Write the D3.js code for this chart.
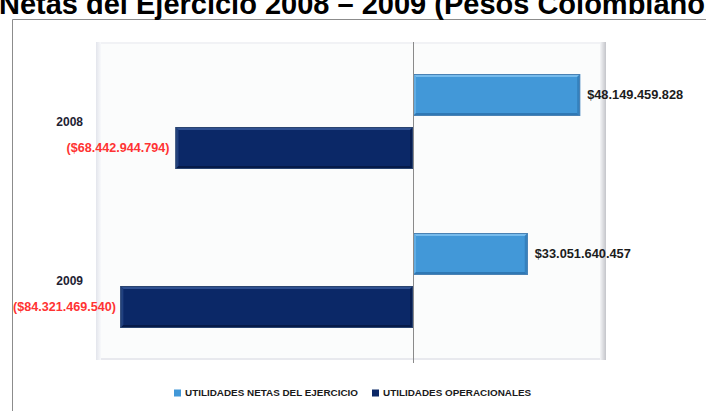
<!DOCTYPE html>
<html>
<head>
<meta charset="utf-8">
<script src="https://cdn.jsdelivr.net/npm/d3@7"></script>
<style>
  html, body { margin: 0; padding: 0; background: #fff; overflow: hidden; }
  text { font-family: 'Liberation Sans', Arial, sans-serif; }
</style>
</head>
<body>
<div id="chart"></div>
<script>
// data
let categories = ['2008', '2009']
let seriesNames = ['UTILIDADES NETAS DEL EJERCICIO', 'UTILIDADES OPERACIONALES']
let netas = [48149459828, 33051640457]
let operacionales = [-68442944794, -84321469540]
let title = 'Utilidades Netas del Ejercicio 2008 \u2013 2009 (Pesos Colombianos)'

let width = 706
let height = 411

let svg = d3
  .select('#chart')
  .append('svg')
  .attr('width', width)
  .attr('height', height)

let defs = svg.append('defs')

// plot area
let plot = { left: 96, right: 606, top: 42, bottom: 360 }

// scales
let xScale = d3
  .scaleLinear()
  .domain([-91.35e9, 55.6e9])
  .range([plot.left, plot.right])

let yScale = d3
  .scaleBand()
  .domain(categories)
  .range([plot.top, plot.bottom])

let seriesScale = d3
  .scaleBand()
  .domain(['netas', 'oper'])
  .range([0, yScale.bandwidth()])
  .paddingInner(11 / 53)
  .paddingOuter(0.6038)

let colors = {
  netas: { main: '#4298d8', light: '#76bbec', dark: '#2f78b4', edge: '#4a82b4' },
  oper: { main: '#0b2867', light: '#2f5090', dark: '#061a48', edge: '#2a4470' }
}

let locale = d3.formatLocale({ decimal: ',', thousands: '.', grouping: [3], currency: ['$', ''] })
let fmt = locale.format(',.0f')

// outer chart frame
svg
  .append('path')
  .attr('d', `M12.5,${height} V19.5 H${width}`)
  .attr('fill', 'none')
  .attr('stroke', '#8c8c8c')
  .attr('stroke-width', 1)

// title (clipped at the top and left like the original)
let titleText = svg
  .append('text')
  .attr('y', 14)
  .attr('font-size', 29)
  .attr('font-weight', 'bold')
  .attr('fill', '#000')
  .text(title)

let lead = titleText.node().getSubStringLength(0, 11)
titleText.attr('x', -lead - 1)

// plot area with its soft bevel
let gradR = defs.append('linearGradient').attr('id', 'edge-r')
gradR.append('stop').attr('offset', '0%').attr('stop-color', '#f4f5f7')
gradR.append('stop').attr('offset', '100%').attr('stop-color', '#c4c5ca')

let gradL = defs.append('linearGradient').attr('id', 'edge-l')
gradL.append('stop').attr('offset', '0%').attr('stop-color', '#e3e5ec')
gradL.append('stop').attr('offset', '100%').attr('stop-color', '#f8f9fb')

svg
  .append('rect')
  .attr('x', plot.left)
  .attr('y', plot.top)
  .attr('width', plot.right - plot.left)
  .attr('height', plot.bottom - plot.top)
  .attr('fill', '#fbfcfc')

svg
  .append('rect')
  .attr('x', plot.left)
  .attr('y', plot.top)
  .attr('width', plot.right - plot.left)
  .attr('height', 2)
  .attr('fill', '#f1f2f5')

svg
  .append('rect')
  .attr('x', plot.left)
  .attr('y', plot.bottom - 2)
  .attr('width', plot.right - plot.left)
  .attr('height', 2)
  .attr('fill', '#e8e9ee')

svg
  .append('rect')
  .attr('x', plot.left)
  .attr('y', plot.top)
  .attr('width', 5)
  .attr('height', plot.bottom - plot.top)
  .attr('fill', 'url(#edge-l)')

svg
  .append('rect')
  .attr('x', plot.right - 6)
  .attr('y', plot.top)
  .attr('width', 6)
  .attr('height', plot.bottom - plot.top)
  .attr('fill', 'url(#edge-r)')

// bars
let rows = categories.map((c, i) => ({
  category: c,
  bars: [
    { key: 'netas', value: netas[i] },
    { key: 'oper', value: operacionales[i] }
  ]
}))

function bevelBar(g, x0, y0, w, h, c) {
  let d = 3
  g.append('rect')
    .attr('x', x0)
    .attr('y', y0)
    .attr('width', w)
    .attr('height', h)
    .attr('fill', c.main)
  // top highlight
  g.append('path')
    .attr('d', `M${x0},${y0} H${x0 + w} L${x0 + w - d},${y0 + d} H${x0 + d} Z`)
    .attr('fill', c.light)
  // left side
  g.append('path')
    .attr('d', `M${x0},${y0} L${x0 + d},${y0 + d} V${y0 + h - d} L${x0},${y0 + h} Z`)
    .attr('fill', c.light)
    .attr('opacity', 0.6)
  // right side
  g.append('path')
    .attr('d', `M${x0 + w},${y0} L${x0 + w - d},${y0 + d} V${y0 + h - d} L${x0 + w},${y0 + h} Z`)
    .attr('fill', c.dark)
    .attr('opacity', 0.7)
  // bottom shade
  g.append('path')
    .attr('d', `M${x0},${y0 + h} H${x0 + w} L${x0 + w - d},${y0 + h - d} H${x0 + d} Z`)
    .attr('fill', c.dark)
  g.append('rect')
    .attr('x', x0 + 0.5)
    .attr('y', y0 + 0.5)
    .attr('width', w - 1)
    .attr('height', h - 1)
    .attr('fill', 'none')
    .attr('stroke', c.edge)
    .attr('stroke-width', 1)
}

let groups = svg
  .selectAll('.cat')
  .data(rows)
  .enter()
  .append('g')
  .attr('class', 'cat')
  .attr('transform', d => `translate(0,${yScale(d.category)})`)

groups.each(function(row) {
  let g = d3.select(this)
  row.bars.forEach(b => {
    let x0 = Math.min(xScale(0), xScale(b.value))
    let w = Math.abs(xScale(b.value) - xScale(0))
    let y0 = seriesScale(b.key)
    let h = seriesScale.bandwidth()
    bevelBar(g.append('g'), x0, y0, w, h, colors[b.key])

    let cy = y0 + h / 2
    if (b.value >= 0) {
      g.append('text')
        .attr('x', xScale(b.value) + 7)
        .attr('y', cy)
        .attr('dy', '0.35em')
        .attr('font-size', 12.8)
        .attr('font-weight', 'bold')
        .attr('fill', '#1c1c1c')
        .text('$' + fmt(b.value))
    } else {
      let t = g
        .append('text')
        .attr('y', cy)
        .attr('dy', '0.35em')
        .attr('font-size', 12.6)
        .attr('font-weight', 'bold')
        .attr('fill', '#ff3333')
        .attr('text-anchor', 'end')
        .text('($' + fmt(-b.value) + ')')
      let tw = t.node().getComputedTextLength()
      let xr = xScale(b.value) - 6
      if (xr - tw < 13) xr = 13 + tw
      t.attr('x', xr)
    }
  })

  // category label
  g.append('text')
    .attr('x', 83)
    .attr('y', yScale.bandwidth() / 2)
    .attr('dy', '0.35em')
    .attr('text-anchor', 'end')
    .attr('font-size', 12)
    .attr('font-weight', 'bold')
    .attr('fill', '#1e2233')
    .text(row.category)
})

// zero line
svg
  .append('line')
  .attr('x1', Math.round(xScale(0)) + 0.5)
  .attr('x2', Math.round(xScale(0)) + 0.5)
  .attr('y1', plot.top)
  .attr('y2', plot.bottom + 3)
  .attr('stroke', '#8a8a8a')
  .attr('stroke-width', 1)

// legend
let legendItems = [
  { name: seriesNames[0], color: colors.netas.main, x: 174 },
  { name: seriesNames[1], color: colors.oper.main, x: 372 }
]

let legend = svg.append('g').attr('transform', 'translate(0, 393)')

legend
  .selectAll('.legend-entry')
  .data(legendItems)
  .enter()
  .append('g')
  .attr('class', 'legend-entry')
  .attr('transform', d => `translate(${d.x},0)`)
  .each(function(d) {
    let g = d3.select(this)
    g.append('rect')
      .attr('x', 0)
      .attr('y', -3.5)
      .attr('width', 7)
      .attr('height', 7)
      .attr('fill', d.color)
    g.append('text')
      .attr('x', 11)
      .attr('y', 0)
      .attr('dy', '0.35em')
      .attr('font-size', 9.9)
      .attr('font-weight', 'bold')
      .attr('fill', '#1a1a1a')
      .text(d.name)
  })
</script>
</body>
</html>
